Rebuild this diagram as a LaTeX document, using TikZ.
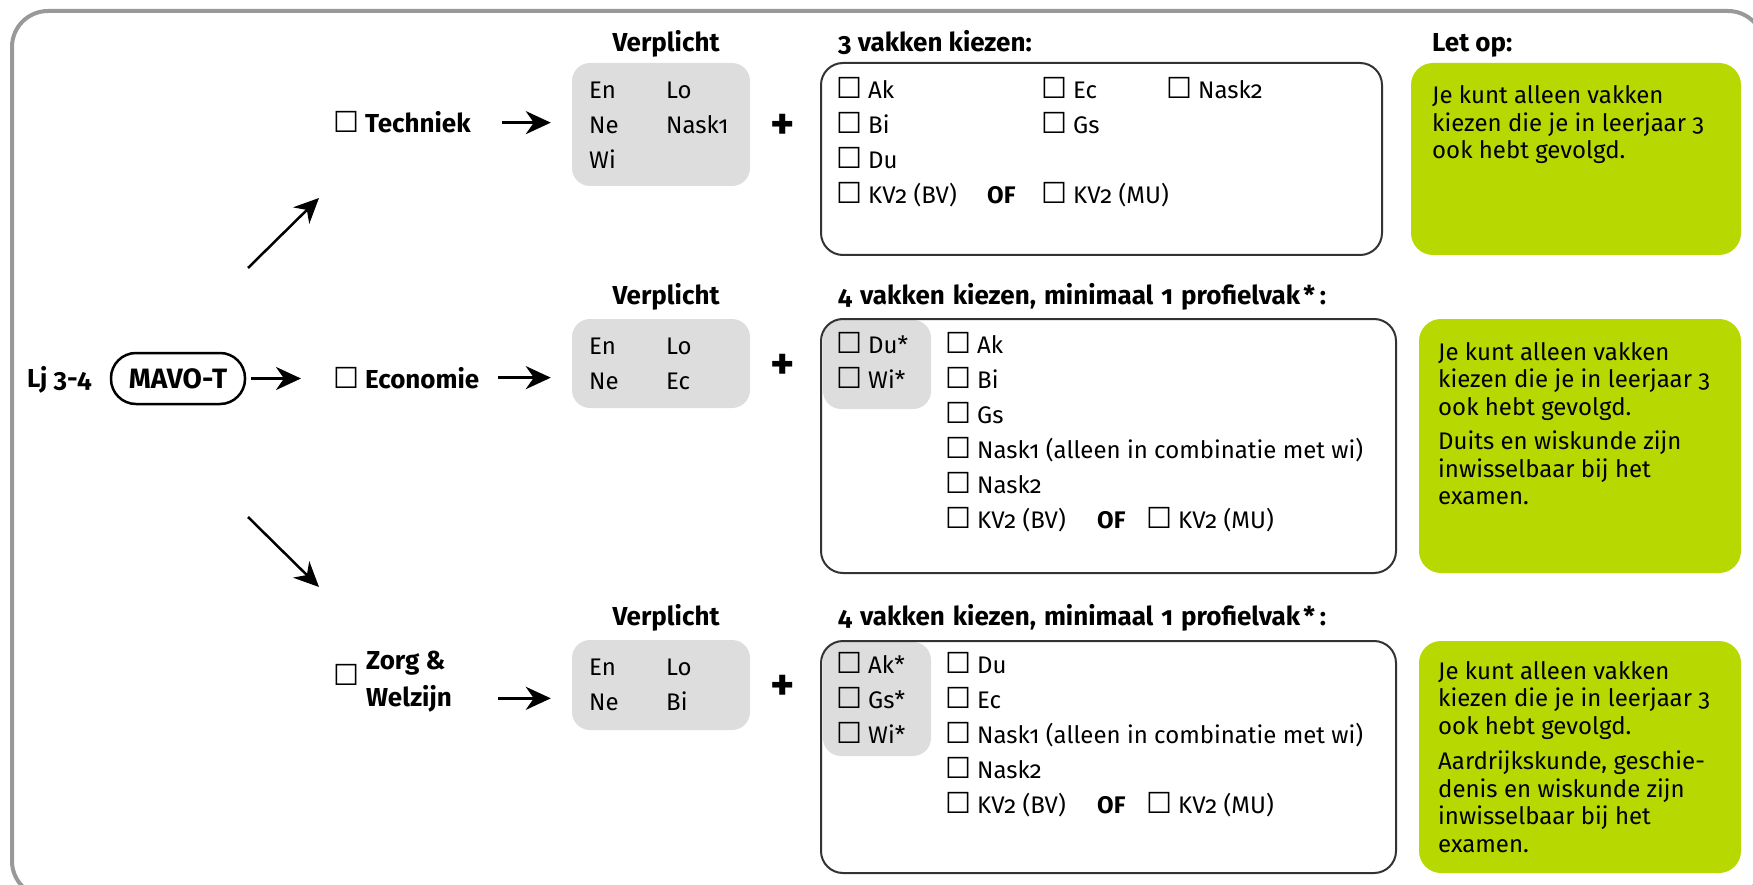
\documentclass[tikz,border=0pt]{standalone}
\usepackage{fontspec}
\setmainfont{Fira Sans}[Numbers=OldStyle]
\newfontfamily\symbolen{DejaVu Sans}
\usepackage{tikz}
\usetikzlibrary{arrows.meta}

\definecolor{vakgrijs}{RGB}{221,221,221}
\definecolor{letopgroen}{RGB}{183,216,0}
\definecolor{kadergrijs}{RGB}{153,153,153}
\newcommand{\hokje}{\makebox[30pt][l]{\hspace{-1.5pt}\symbolen\mdseries\fontsize{29}{29}\selectfont ☐}}
\newcommand{\kieskop}{{\spaceskip=8pt plus 2pt\relax 4 vakken kiezen, minimaal 1 profielvak\hspace{3pt}*\hspace{5pt}:}}

\begin{document}
\begin{tikzpicture}[x=1pt, y=-1pt, font=\fontsize{24}{28}\selectfont,
  tekst/.style={anchor=base west, inner sep=0pt},
  kop/.style={tekst, font=\fontsize{26}{28}\selectfont\bfseries},
  lijst/.style={tekst, font=\fontsize{24}{35}\selectfont},
  uitleg/.style={tekst, font=\fontsize{24}{27.5}\selectfont},
  plus/.style={inner sep=0pt, font=\fontsize{46}{46}\selectfont\bfseries},
  verplicht/.style={fill=vakgrijs, rounded corners=18pt, inner sep=0pt, minimum width=178pt},
  profiel/.style={fill=vakgrijs, rounded corners=18pt, inner sep=0pt, minimum width=108pt},
  keuze/.style={draw=black!80, line width=2pt, rounded corners=22pt, inner sep=0pt},
  letop/.style={fill=letopgroen, rounded corners=22pt, inner sep=0pt},
  pijl/.style={-{Stealth[length=25pt, width=23pt, inset=8pt]}, line width=3pt}]
\def \hoek {36pt}

\useasboundingbox (0,0) rectangle (1753,885);
\draw[kadergrijs, line width=4pt, rounded corners=\hoek] (12,11) rectangle (1764,897);

% Techniek
\node[kop] (techniek) at (335,133) {\hokje Techniek};
\node[kop, anchor=base] (verpl1) at (666,52) {Verplicht};
\node[verplicht, minimum height=123pt] (v1) at (661,124.5) {};
\node[lijst] (vak1) at (589,99) {\begin{tabular}[t]{@{}p{77pt}@{}l@{}}
  En & Lo\\ Ne & Nask1\\ Wi &
\end{tabular}};
\node[plus] (plus1) at (783,127) {+};
\node[kop] (kies1) at (838,52) {3 vakken kiezen:};
\node[keuze, minimum width=561pt, minimum height=192pt] (k1) at (1101.5,159) {};
\node[lijst] (keus1) at (838,99) {\begin{tabular}[t]{@{}p{205pt}@{}p{125pt}@{}l@{}}
  \hokje Ak & \hokje Ec & \hokje Nask2\\
  \hokje Bi & \hokje Gs & \\
  \hokje Du & & \\
  \multicolumn{3}{@{}l@{}}{\makebox[149pt][l]{\hokje KV2 (BV)}\makebox[56pt][l]{\textbf{OF}}\hokje KV2 (MU)}
\end{tabular}};
\node[kop] (letopkop) at (1432,52) {Let op:};
\node[letop, minimum width=330pt, minimum height=192pt] (g1) at (1576,159) {};
\node[uitleg] (uitleg1) at (1432,104) {\begin{tabular}[t]{@{}l@{}}
  Je kunt alleen vakken\\ kiezen die je in leerjaar 3\\ ook hebt gevolgd.
\end{tabular}};

% Economie
\node[kop] (lj) at (27,387) {Lj 3-4};
\node[draw, line width=2.5pt, rounded corners=25pt, minimum width=134pt, minimum height=51pt,
  inner sep=0pt, font=\fontsize{28}{28}\selectfont\bfseries] (mavo) at (178,378.5) {MAVO-T};
\node[kop] (economie) at (335,388) {\hokje Economie};
\node[kop, anchor=base] (verpl2) at (666,305) {Verplicht};
\node[verplicht, minimum height=89pt] (v2) at (661,363.5) {};
\node[lijst] (vak2) at (589,354) {\begin{tabular}[t]{@{}p{77pt}@{}l@{}}
  En & Lo\\ Ne & Ec
\end{tabular}};
\node[plus] (plus2) at (783,367) {+};
\node[kop] (kies2) at (838,305) {\kieskop};
\node[profiel, minimum height=89pt] (p2) at (877,364.5) {};
\node[keuze, minimum width=575pt, minimum height=254pt] (k2) at (1108.5,446) {};
\node[lijst] (keus2) at (838,353) {\begin{tabular}[t]{@{}p{109pt}@{}l@{}}
  \hokje Du* & \hokje Ak\\
  \hokje Wi* & \hokje Bi\\
  & \hokje Gs\\
  & \hokje Nask1 (alleen in combinatie met wi)\\
  & \hokje Nask2\\
  & \makebox[150pt][l]{\hokje KV2 (BV)}\makebox[51pt][l]{\textbf{OF}}\hokje KV2 (MU)
\end{tabular}};
\node[letop, minimum width=322pt, minimum height=254pt] (g2) at (1580,446) {};
\node[uitleg] (uitleg2) at (1438,360) {\begin{tabular}[t]{@{}l@{}}
  Je kunt alleen vakken\\ kiezen die je in leerjaar 3\\ ook hebt gevolgd.\\[7pt]
  Duits en wiskunde zijn\\ inwisselbaar bij het\\ examen.
\end{tabular}};

% Zorg & Welzijn
\node[kop] (vinkzw) at (335,685) {\hokje};
\node[kop] (zorg) at (366,669) {Zorg \&};
\node[kop] (welzijn) at (366,706) {Welzijn};
\node[kop, anchor=base] (verpl3) at (666,625) {Verplicht};
\node[verplicht, minimum height=90pt] (v3) at (661,685) {};
\node[lijst] (vak3) at (589,675) {\begin{tabular}[t]{@{}p{77pt}@{}l@{}}
  En & Lo\\ Ne & Bi
\end{tabular}};
\node[plus] (plus3) at (783,688) {+};
\node[kop] (kies3) at (838,625) {\kieskop};
\node[profiel, minimum height=114pt] (p3) at (877,699) {};
\node[keuze, minimum width=575pt, minimum height=232pt] (k3) at (1108.5,757) {};
\node[lijst] (keus3) at (838,673) {\begin{tabular}[t]{@{}p{109pt}@{}l@{}}
  \hokje Ak* & \hokje Du\\
  \hokje Gs* & \hokje Ec\\
  \hokje Wi* & \hokje Nask1 (alleen in combinatie met wi)\\
  & \hokje Nask2\\
  & \makebox[150pt][l]{\hokje KV2 (BV)}\makebox[51pt][l]{\textbf{OF}}\hokje KV2 (MU)
\end{tabular}};
\node[letop, minimum width=322pt, minimum height=232pt] (g3) at (1580,757) {};
\node[uitleg] (uitleg3) at (1438,679) {\begin{tabular}[t]{@{}l@{}}
  Je kunt alleen vakken\\ kiezen die je in leerjaar 3\\ ook hebt gevolgd.\\[8pt]
  Aardrijkskunde, geschie-\\ denis en wiskunde zijn\\ inwisselbaar bij het\\ examen.
\end{tabular}};

\coordinate (schuin1) at (248,268);
\coordinate (schuin2) at (319,198);
\coordinate (schuin3) at (248,517);
\coordinate (schuin4) at (319,587);

\path[pijl, line width=2.5pt] (schuin1) edge (schuin2);
\path[pijl, line width=2.5pt] (schuin3) edge (schuin4);
\path[pijl] (mavo.east) edge[shorten <=5pt, shorten >=34pt] (mavo.east -| economie.west);
\path[pijl] (techniek.east) edge[shorten <=31pt, shorten >=21pt] (techniek.east -| v1.west);
\path[pijl] (economie.east) edge[shorten <=18pt, shorten >=21pt] (economie.east -| v2.west);
\path[pijl] (welzijn.east) edge[shorten <=46pt, shorten >=21pt] (welzijn.east -| v3.west);

\end{tikzpicture}
\end{document}
